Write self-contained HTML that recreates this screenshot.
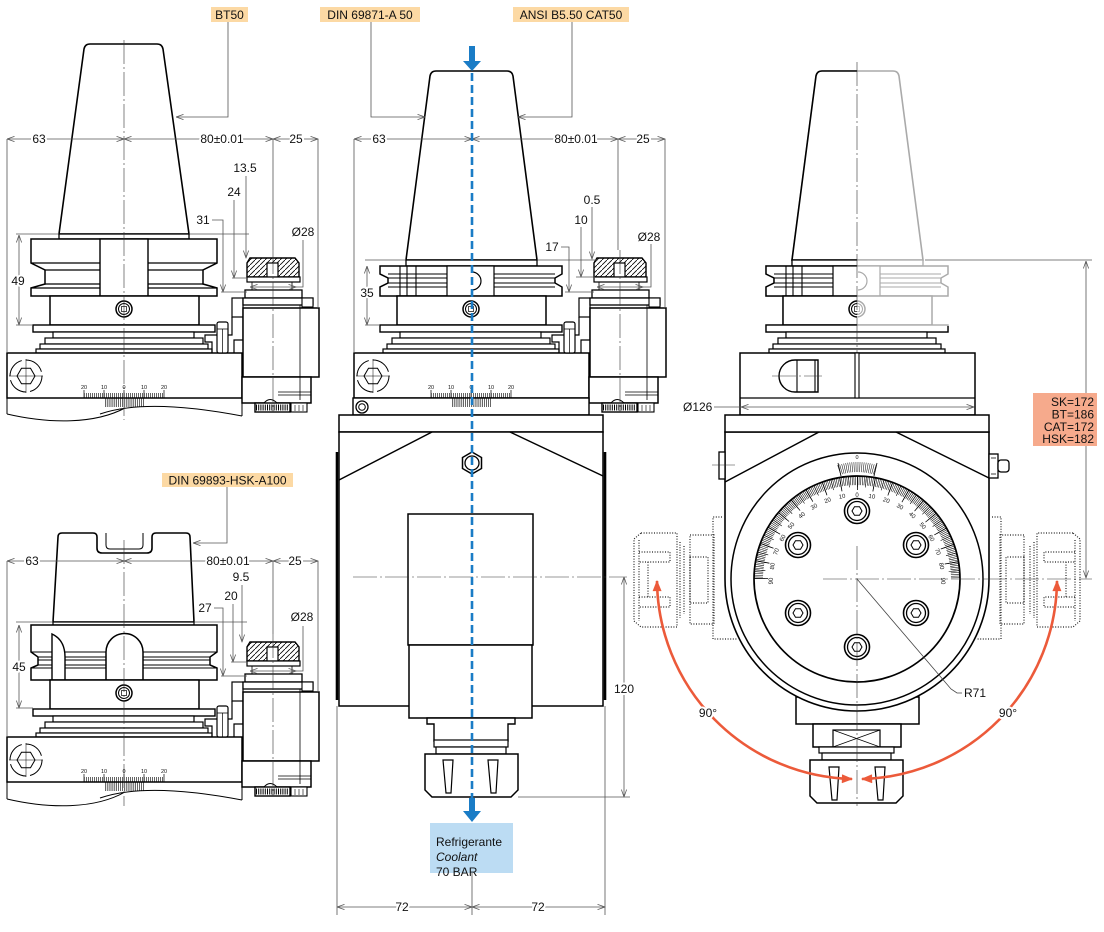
<!DOCTYPE html>
<html><head><meta charset="utf-8"><style>
html,body{margin:0;padding:0;background:#fff}
svg{display:block}
text{font-family:"Liberation Sans",Arial,sans-serif;font-size:12px;fill:#111}
.h{stroke:#fff;stroke-width:4px;paint-order:stroke;stroke-linejoin:round}
.d{stroke:#555;stroke-width:.8;fill:none}
.c{stroke:#333;stroke-width:.6;fill:none;stroke-dasharray:24 3 2 3}
.dot{fill:none;stroke:#222;stroke-width:1.2;stroke-dasharray:1 1.6}
.s{font-size:5.5px}
.s6{font-size:6px}
</style></head><body>
<svg width="1104" height="932" viewBox="0 0 1104 932" xmlns="http://www.w3.org/2000/svg" xmlns:xlink="http://www.w3.org/1999/xlink">
<defs>
<marker id="ar" viewBox="0 0 10 8" refX="10" refY="4" markerWidth="8" markerHeight="6" orient="auto-start-reverse" markerUnits="userSpaceOnUse"><path d="M0,.5 L10,4 L0,7.5" fill="none" stroke="#555" stroke-width="1"/></marker>
<marker id="rr" viewBox="0 0 10 8" refX="9" refY="4" markerWidth="12" markerHeight="9" orient="auto-start-reverse" markerUnits="userSpaceOnUse"><path d="M0,0 L10,4 L0,8Z" fill="#ec5a3a"/></marker>
<pattern id="ht" patternUnits="userSpaceOnUse" width="5" height="5"><rect width="5" height="5" fill="#fff"/><path d="M-1,6 L6,-1" stroke="#000" stroke-width=".8"/></pattern>
<clipPath id="cl"><path d="M0,0 H857 V326 H1104 V932 H0Z"/></clipPath>

<g id="mid">
 <rect x="50" y="296" width="149" height="29" stroke-width="1.5"/>
 <circle cx="124" cy="309" r="8" stroke-width="1.5"/>
 <circle cx="124" cy="309" r="5.5" stroke-width="1"/>
 <rect x="121.5" y="306.5" width="5" height="5" stroke-width=".7"/>
 <rect x="33" y="325" width="182" height="7" stroke-width="1.4"/>
 <rect x="53" y="332" width="141" height="6" stroke-width="1.2"/>
 <rect x="45" y="338" width="158" height="6" stroke-width="1.2"/>
 <rect x="40" y="344" width="168" height="5" stroke-width="1.2"/>
 <rect x="36" y="349" width="176" height="4" stroke-width="1.2"/>
</g>

<g id="topM">
 <path d="M406,260 L430,76 Q431,71 436,71 L507,71 Q512,71 513,76 L537,260Z" stroke-width="1.6"/>
 <rect x="406" y="260" width="131" height="6" stroke-width="1.3"/>
 <path d="M380,266 H562 V274 L555,278 V283 L562,287 V296 H380 V287 L388,283 V278 L380,274Z" stroke-width="1.5"/>
 <path d="M388,274 H555 M388,278 H555 M388,283 H555 M388,287 H555 M400,266 V296 M407,266 V296 M416,266 V296" fill="none" stroke-width="1.1"/>
 <rect x="447" y="266" width="47" height="30" stroke-width="1.2"/>
 <path d="M472,272 A9,9 0 0 1 472,290" fill="none" stroke-width="1.2"/>
</g>

<g id="base">
 <rect x="7" y="353" width="235" height="45" stroke-width="1.5"/>
 <circle cx="26" cy="376" r="16" fill="none" stroke-width="1" stroke-dasharray="21 4"/>
 <polygon points="35,376 30.5,383.8 21.5,383.8 17,376 21.5,368.2 30.5,368.2" fill="none" stroke-width="1"/>
 <path d="M9,376 H43 M26,359 V393" fill="none" stroke-width=".5"/>
 <path d="M84,398 V390 M104,398 V390 M124,398 V390 M144,398 V390 M164,398 V390" fill="none" stroke-width=".7"/>
 <line x1="84" y1="395.5" x2="164" y2="395.5" stroke-width="5" stroke-dasharray=".6 1.4"/>
 <line x1="105" y1="402.5" x2="144" y2="402.5" stroke-width="9" stroke-dasharray=".6 1.3"/>
 <rect x="232" y="298" width="11" height="19" stroke-width="1.2"/>
 <path d="M232,317 V335 H205 V342 H212 V353 M243,317 V340 H234 V353" fill="none" stroke-width="1.2"/>
 <rect x="217" y="322" width="11" height="31" rx="2" stroke-width="1.2"/>
 <path d="M217,329 H228 M222.5,329 V353" fill="none" stroke-width=".7"/>
 <path d="M250,258 H295 L299,263 V277 H247 V263Z" fill="url(#ht)" stroke-width="1.4"/>
 <rect x="267" y="263" width="11" height="14" stroke-width="1.2"/>
 <rect x="247" y="277" width="53" height="5" stroke-width="1.2"/>
 <path d="M252,282 V290 M292,282 V290" fill="none" stroke-width=".8"/>
 <rect x="245" y="290" width="57" height="8" stroke-width="1.3"/>
 <rect x="243" y="298" width="70" height="7" stroke-width="1.3"/>
 <rect x="302" y="298" width="11" height="9" stroke-width="1.1"/>
 <rect x="243" y="308" width="76" height="69" stroke-width="1.5"/>
 <rect x="242" y="377" width="69" height="26" stroke-width="1.5"/>
 <path d="M278,392 H311 M278,395 H311 M300,305 V400" fill="none" stroke-width=".8"/>
 <path d="M264,403 Q270,396 277,403" stroke-width="1"/>
 <rect x="255" y="403" width="35" height="9" stroke-width="1.4"/>
 <line x1="256" y1="407.5" x2="289" y2="407.5" stroke-width="6" stroke-dasharray="1 1.2"/>
 <rect x="291" y="403" width="16" height="9" stroke-width="1.1"/>
 <path d="M295,405 V411 M299,405 V411 M303,405 V411" fill="none" stroke-width=".6"/>
</g>

<g id="bolt"><circle r="12.5" fill="#fff" stroke-width="1.6"/><circle r="9.5" fill="none" stroke-width="1.3"/><polygon points="5,0 2.5,4.3 -2.5,4.3 -5,0 -2.5,-4.3 2.5,-4.3" fill="none" stroke-width="1"/></g>
<g id="ghost">
 <path d="M641,533 H677 V627 H641 L634,621 V539Z M639,540 V621"/>
 <path d="M639,552 H670 V562 H639 M639,597 H670 V607 H639 M648,562 V597"/>
 <path d="M680,542 V618 M684,546 V614"/>
 <rect x="690" y="535" width="24" height="89"/>
 <rect x="690" y="557" width="18" height="46"/>
 <path d="M722,517 H713 V639 H738"/>
</g>
</defs>

<!-- TOP LEFT VIEW -->
<g fill="#fff" stroke="#000">
 <path d="M59,234 L84,49 Q85,44 90,44 L157,44 Q162,44 163,49 L189,234Z" stroke-width="1.6"/>
 <rect x="59" y="234" width="130" height="5" stroke-width="1.3"/>
 <path d="M31,239 H217 V263 L203,270 V284 L217,288 V296 H31 V288 L45,284 V270 L31,263Z" stroke-width="1.5"/>
 <path d="M31,263 H217 M45,270 H203 M45,284 H203 M31,288 H217" fill="none" stroke-width="1.2"/>
 <rect x="100" y="239" width="48" height="57" stroke-width="1.4"/>
 <use xlink:href="#mid"/>
 <use xlink:href="#base"/>
 <path d="M7,398 V414 M242,398 V416 M7,414 C50,424 95,424 125,408 M100,414 C140,400 200,408 242,416" fill="none" stroke-width="1"/>
</g>
<g>
 <text class="s" x="84" y="389" text-anchor="middle">20</text><text class="s" x="104" y="389" text-anchor="middle">10</text><text class="s" x="124" y="389" text-anchor="middle">0</text><text class="s" x="144" y="389" text-anchor="middle">10</text><text class="s" x="164" y="389" text-anchor="middle">20</text>
</g>
<line class="c" x1="124" y1="40" x2="124" y2="420"/>
<line class="c" x1="273" y1="250" x2="273" y2="412"/>
<g class="d">
 <path d="M7,139 V353 M318,139 V308 M273,139 V250"/>
 <line x1="7" y1="139" x2="124" y2="139" marker-start="url(#ar)" marker-end="url(#ar)"/>
 <line x1="124" y1="139" x2="273" y2="139" marker-start="url(#ar)" marker-end="url(#ar)"/>
 <line x1="273" y1="139" x2="318" y2="139" marker-start="url(#ar)" marker-end="url(#ar)"/>
 <path d="M228,22 V117 H176" marker-end="url(#ar)"/>
 <path d="M189,234 H249 M232,278 H247 M221,292 H247 M16,234 H59 M16,325 H33"/>
 <line x1="246" y1="176" x2="246" y2="258" marker-end="url(#ar)"/>
 <line x1="234" y1="200" x2="234" y2="278" marker-end="url(#ar)"/>
 <path d="M212,220 H223 V292" marker-end="url(#ar)"/>
 <line x1="19" y1="235" x2="19" y2="325" marker-start="url(#ar)" marker-end="url(#ar)"/>
 <path d="M303,240 V287 H296"/>
 <line x1="250" y1="287" x2="296" y2="287" marker-start="url(#ar)" marker-end="url(#ar)"/>
</g>
<rect x="211" y="7" width="37" height="15" fill="#fcd9a4"/>
<text x="229.5" y="19" text-anchor="middle">BT50</text>
<text class="h" x="39" y="143" text-anchor="middle">63</text>
<text class="h" x="222" y="143" text-anchor="middle">80±0.01</text>
<text class="h" x="296" y="143" text-anchor="middle">25</text>
<text x="245" y="172" text-anchor="middle">13.5</text>
<text x="234" y="196" text-anchor="middle">24</text>
<text x="203" y="224" text-anchor="middle">31</text>
<text x="303" y="236" text-anchor="middle">Ø28</text>
<text class="h" x="18" y="285" text-anchor="middle">49</text>

<!-- BOTTOM LEFT VIEW -->
<g fill="#fff" stroke="#000">
 <path d="M53,622 L58,537 Q58,533 62,533 L93,533 Q97,533 97,537 L97,548 Q97,553 102,553 L147,553 Q152,553 152,548 L152,537 Q152,533 156,533 L186,533 Q190,533 190,537 L194,622Z" stroke-width="1.6"/>
 <path d="M106,533 V545 Q106,549 110,549 H139 Q143,549 143,545 V533" fill="none" stroke-width="1"/>
 <rect x="53" y="622" width="141" height="3" stroke-width="1.2"/>
 <path d="M31,625 H217 V652 L210,657 V665 L217,668 V680 H31 V668 L38,665 V657 L31,652Z" stroke-width="1.5"/>
 <path d="M31,652 H217 M38,657 H210 M38,660 H210 M38,665 H210 M31,668 H217" fill="none" stroke-width="1.1"/>
 <path d="M106,680 V652 A18.5,18.5 0 0 1 143,652 V680Z" stroke-width="1.5"/>
 <path d="M52,634 Q65,640 65,657 V680 H52Z" stroke-width="1.4"/>
 <use xlink:href="#mid" transform="translate(0,384)"/>
 <use xlink:href="#base" transform="translate(0,384)"/>
 <path d="M7,782 V799 M242,782 V800 M7,799 C50,809 95,809 125,792 M100,798 C140,784 200,792 242,800" fill="none" stroke-width="1"/>
</g>
<g>
 <text class="s" x="84" y="773" text-anchor="middle">20</text><text class="s" x="104" y="773" text-anchor="middle">10</text><text class="s" x="124" y="773" text-anchor="middle">0</text><text class="s" x="144" y="773" text-anchor="middle">10</text><text class="s" x="164" y="773" text-anchor="middle">20</text>
</g>
<line class="c" x1="124" y1="540" x2="124" y2="806"/>
<line class="c" x1="273" y1="634" x2="273" y2="796"/>
<g class="d">
 <path d="M7,561 V737 M318,561 V692 M273,561 V634"/>
 <line x1="7" y1="561" x2="124" y2="561" marker-start="url(#ar)" marker-end="url(#ar)"/>
 <line x1="124" y1="561" x2="273" y2="561" marker-start="url(#ar)" marker-end="url(#ar)"/>
 <line x1="273" y1="561" x2="318" y2="561" marker-start="url(#ar)" marker-end="url(#ar)"/>
 <path d="M227,486 V543 H193" marker-end="url(#ar)"/>
 <path d="M194,622 H247 M231,662 H247 M221,676 H247 M16,622 H53 M16,708 H33"/>
 <line x1="242" y1="585" x2="242" y2="642" marker-end="url(#ar)"/>
 <line x1="233" y1="604" x2="233" y2="662" marker-end="url(#ar)"/>
 <path d="M214,608 H223 V676" marker-end="url(#ar)"/>
 <line x1="19" y1="625" x2="19" y2="708" marker-start="url(#ar)" marker-end="url(#ar)"/>
 <path d="M303,626 V671 H296"/>
 <line x1="250" y1="671" x2="296" y2="671" marker-start="url(#ar)" marker-end="url(#ar)"/>
</g>
<rect x="162" y="473" width="131" height="14" fill="#fcd9a4"/>
<text x="227.5" y="484.5" text-anchor="middle">DIN 69893-HSK-A100</text>
<text class="h" x="32" y="565" text-anchor="middle">63</text>
<text class="h" x="228" y="565" text-anchor="middle">80±0.01</text>
<text class="h" x="295" y="565" text-anchor="middle">25</text>
<text x="241" y="581" text-anchor="middle">9.5</text>
<text x="231" y="600" text-anchor="middle">20</text>
<text x="205" y="612" text-anchor="middle">27</text>
<text x="302" y="621" text-anchor="middle">Ø28</text>
<text class="h" x="19" y="671" text-anchor="middle">45</text>

<!-- MIDDLE VIEW -->
<g fill="#fff" stroke="#000">
 <use xlink:href="#topM"/>
 <use xlink:href="#mid" transform="translate(347,0)"/>
 <use xlink:href="#base" transform="translate(347,0)"/>
 <rect x="353" y="398" width="236" height="17" stroke-width="1.4"/>
 <circle cx="362" cy="407" r="6" stroke-width="1.3"/>
 <circle cx="362" cy="407" r="3.3" stroke-width="1"/>
 <line x1="452" y1="402.5" x2="491" y2="402.5" stroke-width="9" stroke-dasharray=".6 1.3"/>
 <rect x="339" y="415" width="264" height="17" stroke-width="1.5"/>
 <rect x="339" y="432" width="264" height="274" stroke-width="1.5"/>
 <path d="M337,452 V700 M605,452 V700" stroke-width="2.6" fill="none"/>
 <path d="M339,480 L432,432 M510,432 L603,476" fill="none" stroke-width="1.5"/>
 <polygon points="472,452 481.5,457.5 481.5,468.5 472,474 462.5,468.5 462.5,457.5" stroke-width="1.5"/>
 <circle cx="472" cy="463" r="7" stroke-width="1.3"/>
 <rect x="408" y="514" width="125" height="131" stroke-width="1.5"/>
 <rect x="409" y="645" width="123" height="73" stroke-width="1.5"/>
 <path d="M427,718 H515 V724 H508 V741 H434 V724 H427Z" stroke-width="1.4"/>
 <rect x="434" y="740" width="74" height="7" stroke-width="1.2"/>
 <rect x="436" y="747" width="70" height="7" stroke-width="1.2"/>
 <path d="M425,754 H518 V790 L511,797 H432 L425,790Z" stroke-width="1.5"/>
 <path d="M443,760 H453 L451,793 H446Z M488,760 H498 L496,793 H491Z" stroke-width="1.2"/>
</g>
<g>
 <text class="s" x="431" y="389" text-anchor="middle">20</text><text class="s" x="451" y="389" text-anchor="middle">10</text><text class="s" x="471" y="389" text-anchor="middle">0</text><text class="s" x="491" y="389" text-anchor="middle">10</text><text class="s" x="511" y="389" text-anchor="middle">20</text>
</g>
<line class="c" x1="353" y1="577" x2="627" y2="577"/>
<line class="c" x1="620" y1="250" x2="620" y2="412"/>
<g class="d">
 <path d="M354,139 V353 M665,139 V308 M618,139 V250"/>
 <line x1="354" y1="139" x2="472" y2="139" marker-start="url(#ar)" marker-end="url(#ar)"/>
 <line x1="472" y1="139" x2="618" y2="139" marker-start="url(#ar)" marker-end="url(#ar)"/>
 <line x1="618" y1="139" x2="665" y2="139" marker-start="url(#ar)" marker-end="url(#ar)"/>
 <path d="M371,21 V117 H425" marker-end="url(#ar)"/>
 <path d="M572,21 V117 H518" marker-end="url(#ar)"/>
 <path d="M365,260 H406 M365,325 H380 M537,260 H598 M576,277 H595 M565,292 H594"/>
 <line x1="367" y1="266" x2="367" y2="325" marker-start="url(#ar)" marker-end="url(#ar)"/>
 <line x1="592" y1="207" x2="592" y2="259" marker-end="url(#ar)"/>
 <line x1="581" y1="227" x2="581" y2="277" marker-end="url(#ar)"/>
 <path d="M561,247 H569 V292" marker-end="url(#ar)"/>
 <path d="M651,244 V287 H643"/>
 <line x1="597" y1="287" x2="643" y2="287" marker-start="url(#ar)" marker-end="url(#ar)"/>
 <path d="M518,797 H630 M337,706 V915 M605,706 V915 M472,873 V915"/>
 <line x1="624" y1="577" x2="624" y2="797" marker-start="url(#ar)" marker-end="url(#ar)"/>
 <line x1="337" y1="907" x2="472" y2="907" marker-start="url(#ar)" marker-end="url(#ar)"/>
 <line x1="472" y1="907" x2="605" y2="907" marker-start="url(#ar)" marker-end="url(#ar)"/>
</g>
<rect x="320" y="7" width="100" height="15" fill="#fcd9a4"/>
<text x="370" y="19" text-anchor="middle">DIN 69871-A 50</text>
<rect x="513" y="7" width="116" height="15" fill="#fcd9a4"/>
<text x="571" y="19" text-anchor="middle">ANSI B5.50 CAT50</text>
<text class="h" x="379" y="143" text-anchor="middle">63</text>
<text class="h" x="576" y="143" text-anchor="middle">80±0.01</text>
<text class="h" x="643" y="143" text-anchor="middle">25</text>
<text x="592" y="204" text-anchor="middle">0.5</text>
<text x="581" y="224" text-anchor="middle">10</text>
<text x="552" y="251" text-anchor="middle">17</text>
<text x="649" y="241" text-anchor="middle">Ø28</text>
<text class="h" x="367" y="297" text-anchor="middle">35</text>
<text class="h" x="624" y="693" text-anchor="middle">120</text>
<text class="h" x="402" y="911" text-anchor="middle">72</text>
<text class="h" x="538" y="911" text-anchor="middle">72</text>
<line x1="472" y1="73" x2="472" y2="798" stroke="#1a7cc6" stroke-width="2.6" stroke-dasharray="8 4"/>
<rect x="469" y="46" width="6" height="16" fill="#1a7cc6"/>
<polygon points="463,61 481,61 472,71" fill="#1a7cc6"/>
<rect x="469" y="798" width="6" height="14" fill="#1a7cc6"/>
<polygon points="463,811 481,811 472,822" fill="#1a7cc6"/>
<rect x="430" y="823" width="83" height="50" fill="#bcdcf3"/>
<text x="436" y="846">Refrigerante</text>
<text x="436" y="861" font-style="italic">Coolant</text>
<text x="436" y="876">70 BAR</text>

<!-- RIGHT VIEW -->
<g fill="#fff" stroke="#aaa">
 <use xlink:href="#topM" transform="translate(386,0)"/>
 <use xlink:href="#mid" transform="translate(733,0)"/>
</g>
<g fill="#fff" stroke="#000" clip-path="url(#cl)">
 <use xlink:href="#topM" transform="translate(386,0)"/>
 <use xlink:href="#mid" transform="translate(733,0)"/>
</g>
<line class="c" x1="857" y1="62" x2="857" y2="420"/>
<g fill="#fff" stroke="#000">
 <rect x="740" y="353" width="235" height="62" stroke-width="1.5"/>
 <path d="M740,398 H975" stroke-width="1.2" fill="none"/>
 <rect x="855" y="353" width="4" height="45" stroke-width="1.1"/>
 <path d="M795,360 H818 V392 H795 A16,16 0 0 1 795,360Z" stroke-width="1.4"/>
 <path d="M797,360 V392 M815,360 V392" fill="none" stroke-width="1.1"/>
 <path d="M772,376 H822" class="c"/>
 <g class="dot"><use xlink:href="#ghost"/></g>
 <g class="dot" transform="translate(1714,0) scale(-1,1)"><use xlink:href="#ghost"/></g>
 <rect x="796" y="697" width="123" height="27" stroke-width="1.5"/>
 <rect x="813" y="724" width="88" height="23" stroke-width="1.5"/>
 <rect x="833" y="730" width="47" height="17" stroke-width="1.2"/>
 <path d="M833,730 L880,747 M880,730 L833,747" stroke-width=".7" fill="none"/>
 <rect x="819" y="747" width="75" height="6" stroke-width="1.2"/>
 <rect x="822" y="753" width="69" height="7" stroke-width="1.2"/>
 <path d="M810,760 H903 V796 L896,803 H817 L810,796Z" stroke-width="1.5"/>
 <path d="M829,767 H839 L837,800 H832Z M875,767 H885 L883,800 H878Z" stroke-width="1.2"/>
 <path d="M725,432 V579 A132,132 0 0 0 989,579 V432Z" stroke-width="1.6"/>
 <rect x="725" y="415" width="264" height="17" stroke-width="1.5"/>
 <rect x="719" y="452" width="6" height="27" stroke-width="1.3"/>
 <path d="M712,465 H735" class="c"/>
 <rect x="989" y="454" width="9" height="24" stroke-width="1.3"/>
 <path d="M991,458 H996 M991,474 H996" stroke-width=".8" fill="none"/>
 <rect x="998" y="460" width="11" height="12" rx="3" stroke-width="1.3"/>
 <path d="M725,482 L819,432 M896,432 L989,478" fill="none" stroke-width="1.5"/>
 <circle cx="857" cy="579" r="126" fill="none" stroke-width="1.5"/>
 <circle cx="857" cy="579" r="103" fill="none" stroke-width="1.7"/>
 <path d="M758.5,579 A98.5,98.5 0 0 1 955.5,579" fill="none" stroke-width="9" stroke-dasharray=".55 1.169"/>
 <path d="M759.5,579 A97.5,97.5 0 0 1 954.5,579" fill="none" stroke-width="11" stroke-dasharray=".6 7.908"/>
 <path d="M761,579 A96,96 0 0 1 953,579" fill="none" stroke-width="14" stroke-dasharray=".8 15.955"/>
 <path d="M839,470 Q857,464 876,470" fill="none" stroke-width="10" stroke-dasharray=".5 1.4"/>
 <path d="M838,463 L841,476 M877,463 L874,476" fill="none" stroke-width=".8"/>
 <use xlink:href="#bolt" x="857" y="511"/>
 <use xlink:href="#bolt" x="916" y="545"/>
 <use xlink:href="#bolt" x="916" y="613"/>
 <use xlink:href="#bolt" x="857" y="647"/>
 <use xlink:href="#bolt" x="798" y="613"/>
 <use xlink:href="#bolt" x="798" y="545"/>
</g>
<g text-anchor="middle">
 <text class="s" x="857" y="459">0</text>
 <text class="s6" transform="translate(857,497) rotate(0)">0</text>
 <text class="s6" transform="translate(871.6,498.3) rotate(10)">10</text>
 <text class="s6" transform="translate(885.7,502.1) rotate(20)">20</text>
 <text class="s6" transform="translate(899,508.3) rotate(30)">30</text>
 <text class="s6" transform="translate(911,516.7) rotate(40)">40</text>
 <text class="s6" transform="translate(921.3,527) rotate(50)">50</text>
 <text class="s6" transform="translate(929.7,539) rotate(60)">60</text>
 <text class="s6" transform="translate(936,552.3) rotate(70)">70</text>
 <text class="s6" transform="translate(939.7,566.4) rotate(80)">80</text>
 <text class="s6" transform="translate(941,581) rotate(90)">90</text>
 <text class="s6" transform="translate(842.4,498.3) rotate(-10)">10</text>
 <text class="s6" transform="translate(828.3,502.1) rotate(-20)">20</text>
 <text class="s6" transform="translate(815,508.3) rotate(-30)">30</text>
 <text class="s6" transform="translate(803,516.7) rotate(-40)">40</text>
 <text class="s6" transform="translate(792.7,527) rotate(-50)">50</text>
 <text class="s6" transform="translate(784.3,539) rotate(-60)">60</text>
 <text class="s6" transform="translate(778,552.3) rotate(-70)">70</text>
 <text class="s6" transform="translate(774.3,566.4) rotate(-80)">80</text>
 <text class="s6" transform="translate(773,581) rotate(-90)">90</text>
</g>
<line class="c" x1="823" y1="579" x2="1092" y2="579"/>
<line class="c" x1="857" y1="546" x2="857" y2="806"/>
<path d="M857,579 L951,689 L957,693 H962" fill="none" stroke="#444" stroke-width=".8"/>
<text x="964" y="697">R71</text>
<g class="d">
 <path d="M925,260 H1092 M714,407 H741"/>
 <line x1="741" y1="407" x2="974" y2="407" marker-start="url(#ar)" marker-end="url(#ar)"/>
 <line x1="1086" y1="261" x2="1086" y2="578" marker-start="url(#ar)" marker-end="url(#ar)"/>
</g>
<text x="683" y="411">Ø126</text>
<rect x="1033" y="393" width="64" height="53" fill="#f6aa8c"/>
<g text-anchor="end">
 <text x="1094" y="406">SK=172</text>
 <text x="1094" y="418.5">BT=186</text>
 <text x="1094" y="431">CAT=172</text>
 <text x="1094" y="443">HSK=182</text>
</g>
<path d="M657,581 A200,200 0 0 0 852,779" fill="none" stroke="#ec5a3a" stroke-width="2.6" marker-start="url(#rr)" marker-end="url(#rr)"/>
<path d="M1057,581 A200,200 0 0 1 862,779" fill="none" stroke="#ec5a3a" stroke-width="2.6" marker-start="url(#rr)" marker-end="url(#rr)"/>
<text class="h" x="708" y="717" text-anchor="middle">90°</text>
<text class="h" x="1008" y="717" text-anchor="middle">90°</text>
</svg>
</body></html>
